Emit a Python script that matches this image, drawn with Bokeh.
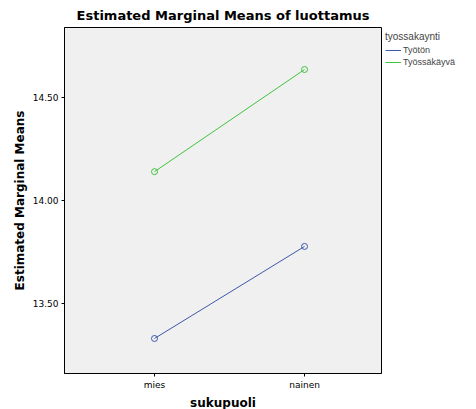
from bokeh.plotting import figure
from bokeh.models import Legend, LegendItem, FixedTicker, Range1d
from bokeh.embed import file_html
from bokeh.resources import INLINE

categories = ["mies", "nainen"]
tyoton = [13.33, 13.777]
tyossa = [14.14, 14.636]
series_names = ["Työtön", "Työssäkäyvä"]
yticks = [13.5, 14.0, 14.5]

xs = list(range(len(categories)))
p = figure(frame_width=317, frame_height=346, output_backend="svg", toolbar_location=None,
           x_range=Range1d(-0.6, 1.513), y_range=Range1d(13.16, 14.84),
           min_border_left=64, min_border_right=0, min_border_top=19, min_border_bottom=20)
p.title.text = "Estimated Marginal Means of luottamus"
p.title.align = "center"
p.title.text_font = "DejaVu Sans"
p.title.text_font_size = "13px"
p.title.text_color = "black"
p.title.offset = 43
p.background_fill_color = "#f0f0f0"
p.border_fill_color = "white"
p.outline_line_color = "black"
p.grid.visible = False

r1 = p.line(xs, tyoton, color="#3e58ac", line_width=1)
p.scatter(xs, tyoton, size=6, fill_color=None, line_color="#3e58ac")
r2 = p.line(xs, tyossa, color="#3ec43e", line_width=1)
p.scatter(xs, tyossa, size=6, fill_color=None, line_color="#3ec43e")

p.xaxis.ticker = FixedTicker(ticks=xs)
p.xaxis.major_label_overrides = {i: c for i, c in enumerate(categories)}
p.yaxis.ticker = FixedTicker(ticks=yticks)
p.yaxis.major_label_overrides = {t: f"{t:.2f}" for t in yticks}
p.xaxis.minor_tick_line_color = None
p.yaxis.minor_tick_line_color = None
p.axis.major_tick_out = 3
p.axis.major_tick_in = 0
p.axis.major_label_standoff = 3
p.axis.axis_label_standoff = 3
p.axis.major_label_text_font_size = "9px"
p.axis.major_label_text_font = "DejaVu Sans"
p.axis.major_label_text_color = "black"
p.axis.axis_label_text_color = "black"
p.axis.axis_label_text_font_style = "bold"
p.axis.axis_label_text_font = "DejaVu Sans"
p.axis.axis_label_text_font_size = "12px"
p.xaxis.axis_label = "sukupuoli"
p.yaxis.axis_label = "Estimated Marginal Means"

legend = Legend(items=[LegendItem(label=series_names[0], renderers=[r1]),
                       LegendItem(label=series_names[1], renderers=[r2])],
                title="tyossakaynti", location="top_left",
                label_text_font_size="9px", title_text_font_size="10px",
                title_text_font_style="normal", border_line_color=None,
                background_fill_alpha=0, glyph_width=16, glyph_height=10,
                label_height=10, spacing=2, padding=2, margin=4, label_standoff=2,
                title_standoff=3)
p.add_layout(legend, "right")

open("out.html", "w").write(file_html(p, INLINE))
